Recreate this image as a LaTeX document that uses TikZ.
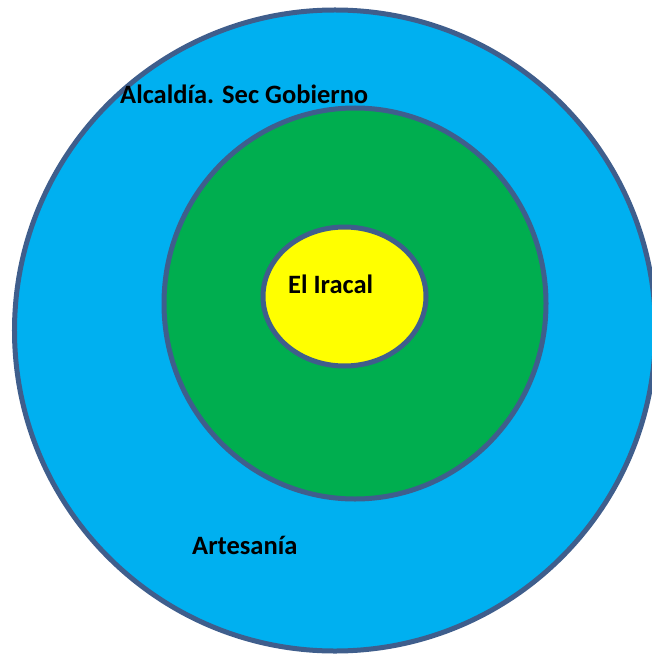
\documentclass[tikz,border=0pt]{standalone}
\usepackage{fontspec}
\setmainfont{Carlito}
\usepackage{tikz}
\usetikzlibrary{shapes.geometric, positioning}
\definecolor{ringline}{HTML}{3F5E8C}
\definecolor{outerblue}{HTML}{00B0F0}
\definecolor{midgreen}{HTML}{00AE4F}
\definecolor{coreyellow}{HTML}{FFFF00}
\tikzset{
  ring/.style={
    ellipse, inner sep=0pt, draw=ringline, line width=5bp,
  },
  label/.style={
    anchor=base west, inner sep=0pt, text=black,
    font=\fontsize{26.5bp}{31bp}\selectfont\bfseries,
  },
}

\begin{document}
\begin{tikzpicture}[x=1bp, y=-1bp]

  \useasboundingbox (0,0) rectangle (652,655);
  \clip (0,0) rectangle (652,655);

  \node[ring, fill=outerblue, minimum width=641bp, minimum height=641bp] (outer) at (335,330.5) {};
  \node[ring, fill=midgreen, minimum width=382bp, minimum height=391bp] (middle) at (355,303.5) {};
  \node[ring, fill=coreyellow, minimum width=163bp, minimum height=139bp] (core) at (344.5,296.5) {};

  \node[label] (alcaldia) at (120,104) {Alcaldía. Sec Gobierno};
  \node[label] (iracal) at (288,293) {El Iracal};
  \node[label] (artesania) at (192,554) {Artesanía};

\end{tikzpicture}
\end{document}
